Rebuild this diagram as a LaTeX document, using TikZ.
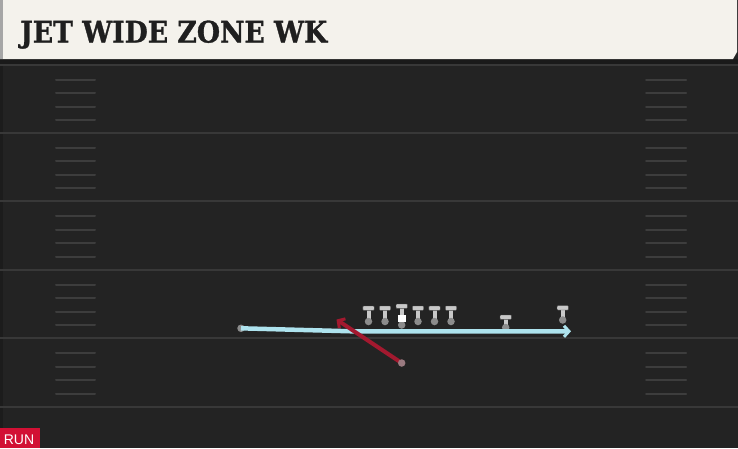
\documentclass[tikz,border=0pt]{standalone}
\usepackage{fontspec}
\setmainfont{DejaVu Serif}
\newfontfamily\titlefont[FakeBold=1.2]{DejaVu Serif Bold}
\newfontfamily\runfont{Liberation Sans}
\usetikzlibrary{arrows.meta}
\definecolor{fieldbg}{HTML}{232323}
\definecolor{bandcol}{HTML}{1A1A1A}
\definecolor{headbg}{HTML}{F4F2EC}
\definecolor{yardcol}{HTML}{383838}
\definecolor{hashcol}{HTML}{3D3D3D}
\definecolor{routecyan}{HTML}{AEE3EE}
\definecolor{routered}{HTML}{A3192F}
\definecolor{runred}{HTML}{D21034}
\definecolor{tbar}{HTML}{C8C8C8}
\definecolor{tdot}{HTML}{8C8C8C}
\definecolor{rbdotcol}{HTML}{9A7A80}
\tikzset{
  yardline/.style={draw=yardcol, line width=2pt},
  hashmark/.style={draw=hashcol, line width=2pt, line cap=round},
  tbarstyle/.style={fill=tbar, draw=black!70, line width=0.4pt, rounded corners=0.8pt},
  tstem/.style={draw=tbar, line width=4pt},
  tdotstyle/.style={circle, fill=tdot, inner sep=0pt, minimum size=7.5pt},
  startdot/.style={circle, fill=#1, inner sep=0pt, minimum size=7.5pt},
  cyanroute/.style={draw=routecyan, line width=4.5pt, -{Straight Barb[length=5pt,width=11pt,line width=3pt]}},
  redroute/.style={draw=routered, line width=4pt, -{Straight Barb[length=5pt,width=11pt,line width=3pt]}}
}
\begin{document}
\begin{tikzpicture}[x=1pt,y=-1pt]
\useasboundingbox (0,0) rectangle (738,448);
% field
\fill[fieldbg] (0,0) rectangle (738,448);
\fill[bandcol] (0,59) rectangle (738,64);
\fill[black!20!fieldbg] (0,64) rectangle (3,448);
% header
\fill[headbg] (0,0) -- (737,0) -- (737,52) -- (733,59) -- (0,59) -- cycle;
\fill[black!35] (0,0) rectangle (3,59);
\node[anchor=base west, inner sep=0pt, text=black!88] (title) at (20,42.5)
  {\resizebox{307pt}{22pt}{\titlefont JET WIDE ZONE WK}};
% yard lines
\foreach \y in {64.5,132.5,201,269.5,338,406.5}
  \draw[yardline] (0,\y) -- (738,\y);
% hash marks
\foreach \y in {64.5,132.5,201,269.5,338}{
  \foreach \o in {15,28.5,42,55.5}{
    \draw[hashmark] (56,\y+\o) -- (95,\y+\o);
    \draw[hashmark] (646,\y+\o) -- (686,\y+\o);
  }
}
% players (T shapes)
\foreach \n/\x/\t/\c in {lt/368.5/306/321.5, lg/385/306/321.5, rg/418/306/321.5, rt/434.5/306/321.5, te1/451/306/321.5, te/505.7/315/327.5, wr/562.7/305.7/320}{
  \draw[tstem] (\x,\t+2) -- (\x,\c);
  \node[tdotstyle] (\n) at (\x,\c) {};
  \filldraw[tbarstyle] (\x-5.7,\t) rectangle (\x+5.7,\t+4.3);
}
% center
\draw[tstem] (401.7,306) -- (401.7,325);
\node[tdotstyle] (c) at (401.7,325) {};
\fill[white] (398,314.5) rectangle (405.5,322);
\filldraw[tbarstyle] (396,304) rectangle (407.4,308.3);
% routes
\node[startdot=black!45] (jet) at (241,328.3) {};
\coordinate (jetbend) at (352,331.3);
\coordinate (jetend) at (571,331.3);
\draw[cyanroute] (jet.center) -- (jetbend) -- (jetend);
\coordinate (rbstart) at (401.7,363);
\coordinate (rbend) at (336.5,319.5);
\draw[redroute] (rbstart) -- (rbend);
\node[startdot=rbdotcol] (rbdot) at (rbstart) {};
% RUN tag
\fill[runred] (0,428) rectangle (40,448);
\node[anchor=base, inner sep=0pt, text=white] (runlabel) at (19,444.5)
  {\runfont\fontsize{14}{14}\selectfont RUN};
\end{tikzpicture}
\end{document}
